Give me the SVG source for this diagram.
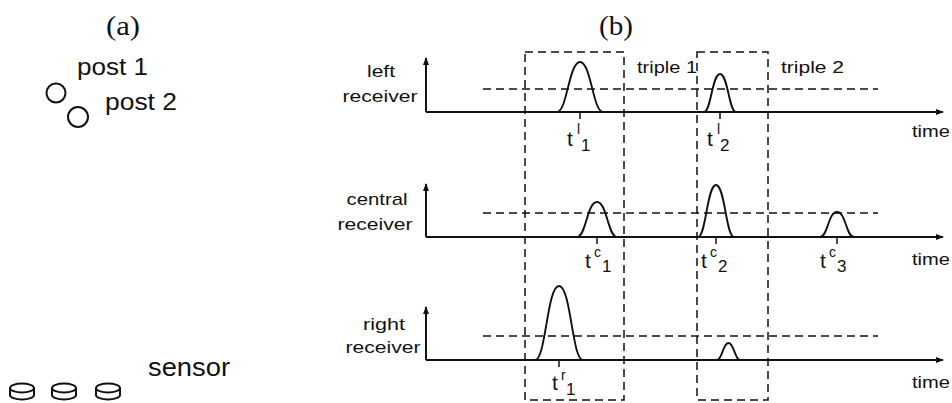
<svg xmlns="http://www.w3.org/2000/svg" width="952" height="403" viewBox="0 0 952 403">
<style>
.lbl{font-family:"Liberation Sans",Arial,sans-serif;font-size:17px;fill:#111}
.big{font-family:"Liberation Sans",Arial,sans-serif;fill:#111}
.ser{font-family:"Liberation Serif","Times New Roman",serif;font-size:28px;fill:#111}
.t{font-family:"Liberation Sans",Arial,sans-serif;font-size:21px;fill:#111}
.sup{font-family:"Liberation Sans",Arial,sans-serif;font-size:14px;fill:#111}
.sub{font-family:"Liberation Sans",Arial,sans-serif;font-size:17px;fill:#111}
.axis{stroke:#111;stroke-width:2;fill:none}
.pulse{stroke:#111;stroke-width:1.9;fill:none}
.dash{stroke:#111;stroke-width:1.5;fill:none;stroke-dasharray:8 5}
.tick{stroke:#111;stroke-width:1.5}
.shape{stroke:#111;stroke-width:2;fill:none}
</style>
<defs>
<marker id="ah" markerWidth="8" markerHeight="8" refX="7" refY="4" orient="auto" markerUnits="userSpaceOnUse">
<path d="M0,1 L8,4 L0,7 Z" fill="#111"/>
</marker>
</defs>
<rect width="952" height="403" fill="#fff"/>

<g id="panel-a">
<text class="ser" x="123" y="35" text-anchor="middle" textLength="34" lengthAdjust="spacingAndGlyphs">(a)</text>
<g id="post1">
<circle class="shape" cx="56" cy="93" r="9.5"/>
<text class="big" x="77" y="75" font-size="23" textLength="71" lengthAdjust="spacingAndGlyphs">post 1</text>
</g>
<g id="post2">
<circle class="shape" cx="78" cy="117" r="10"/>
<text class="big" x="105" y="110" font-size="23" textLength="72" lengthAdjust="spacingAndGlyphs">post 2</text>
</g>
<g id="sensors">
<path class="shape" d="M10,388 A12,4.5 0 0 1 34,388 A12,4.5 0 0 1 10,388 Z M10,388 L10,395 A12,4.5 0 0 0 34,395 L34,388"/>
<path class="shape" d="M52,388 A12,4.5 0 0 1 76,388 A12,4.5 0 0 1 52,388 Z M52,388 L52,395 A12,4.5 0 0 0 76,395 L76,388"/>
<path class="shape" d="M96,388 A12,4.5 0 0 1 120,388 A12,4.5 0 0 1 96,388 Z M96,388 L96,395 A12,4.5 0 0 0 120,395 L120,388"/>
<text class="big" x="148" y="376" font-size="25" textLength="82" lengthAdjust="spacingAndGlyphs">sensor</text>
</g>
</g>

<g id="panel-b">
<text class="ser" x="616" y="35" text-anchor="middle" textLength="34" lengthAdjust="spacingAndGlyphs">(b)</text>

<g id="windows">
<rect class="dash" x="525" y="52" width="99" height="348"/>
<rect class="dash" x="697" y="52" width="71" height="348"/>
<text class="lbl" x="637" y="73" textLength="60" lengthAdjust="spacingAndGlyphs">triple 1</text>
<text class="lbl" x="781" y="73" textLength="63" lengthAdjust="spacingAndGlyphs">triple 2</text>
</g>

<g id="left-receiver">
<text class="lbl" x="381" y="77" text-anchor="middle" textLength="28" lengthAdjust="spacingAndGlyphs">left</text>
<text class="lbl" x="380" y="102" text-anchor="middle" textLength="75" lengthAdjust="spacingAndGlyphs">receiver</text>
<line class="axis" x1="426" y1="112" x2="426" y2="58" marker-end="url(#ah)"/>
<line class="axis" x1="426" y1="112" x2="943" y2="112" marker-end="url(#ah)"/>
<line class="dash" x1="483" y1="89" x2="878" y2="89"/>
<path class="pulse" d="M557,112 C567,112 569,62 580,62 C591,62 593,112 603,112"/>
<path class="pulse" d="M704,112 C711,112 712,74 720,74 C728,74 729,112 736,112"/>
<line class="tick" x1="580" y1="112" x2="580" y2="119"/>
<line class="tick" x1="720" y1="112" x2="720" y2="119"/>
<text class="lbl" x="912" y="137" textLength="38" lengthAdjust="spacingAndGlyphs">time</text>
<text class="t" x="567" y="146">t</text><text class="sup" x="577" y="134">l</text><text class="sub" x="581" y="151">1</text>
<text class="t" x="707" y="146">t</text><text class="sup" x="717" y="134">l</text><text class="sub" x="720" y="151">2</text>
</g>

<g id="central-receiver">
<text class="lbl" x="377" y="205" text-anchor="middle" textLength="61" lengthAdjust="spacingAndGlyphs">central</text>
<text class="lbl" x="375" y="230" text-anchor="middle" textLength="75" lengthAdjust="spacingAndGlyphs">receiver</text>
<line class="axis" x1="426" y1="237" x2="426" y2="184" marker-end="url(#ah)"/>
<line class="axis" x1="426" y1="237" x2="943" y2="237" marker-end="url(#ah)"/>
<line class="dash" x1="483" y1="213" x2="878" y2="213"/>
<path class="pulse" d="M577,237 C586,237 587,202 597,202 C607,202 608,237 617,237"/>
<path class="pulse" d="M698,237 C706,237 707,185 716,185 C725,185 726,237 734,237"/>
<path class="pulse" d="M820,237 C828,237 828,212 837,212 C846,212 846,237 854,237"/>
<line class="tick" x1="597" y1="237" x2="597" y2="244"/>
<line class="tick" x1="716" y1="237" x2="716" y2="244"/>
<line class="tick" x1="837" y1="237" x2="837" y2="244"/>
<text class="lbl" x="912" y="265" textLength="38" lengthAdjust="spacingAndGlyphs">time</text>
<text class="t" x="585" y="268">t</text><text class="sup" x="594" y="257">c</text><text class="sub" x="602" y="272">1</text>
<text class="t" x="701" y="268">t</text><text class="sup" x="710" y="257">c</text><text class="sub" x="718" y="272">2</text>
<text class="t" x="820" y="268">t</text><text class="sup" x="829" y="257">c</text><text class="sub" x="837" y="272">3</text>
</g>

<g id="right-receiver">
<text class="lbl" x="384" y="330" text-anchor="middle" textLength="42" lengthAdjust="spacingAndGlyphs">right</text>
<text class="lbl" x="383" y="353" text-anchor="middle" textLength="75" lengthAdjust="spacingAndGlyphs">receiver</text>
<line class="axis" x1="426" y1="360" x2="426" y2="307" marker-end="url(#ah)"/>
<line class="axis" x1="426" y1="360" x2="943" y2="360" marker-end="url(#ah)"/>
<line class="dash" x1="483" y1="336" x2="878" y2="336"/>
<path class="pulse" d="M535,360 C546,360 547,286 559,286 C571,286 572,360 583,360"/>
<path class="pulse" d="M717,360 C722,360 723,343 728.5,343 C734,343 735,360 740,360"/>
<line class="tick" x1="559" y1="360" x2="559" y2="367"/>
<text class="lbl" x="912" y="388" textLength="38" lengthAdjust="spacingAndGlyphs">time</text>
<text class="t" x="552" y="390">t</text><text class="sup" x="561" y="380">r</text><text class="sub" x="566" y="395">1</text>
</g>
</g>
</svg>
